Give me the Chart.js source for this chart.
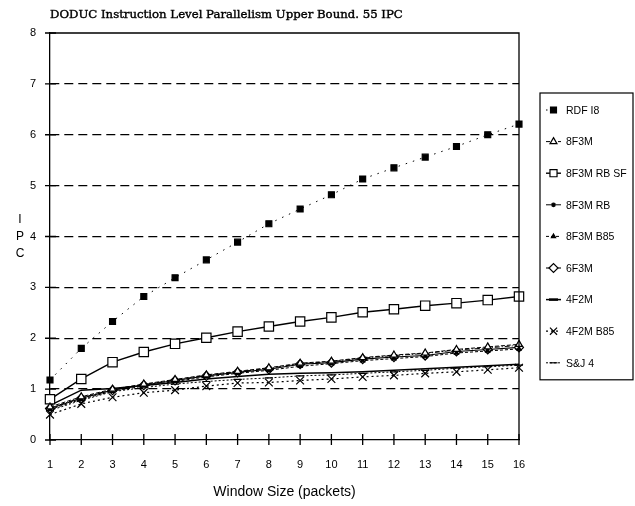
<!DOCTYPE html>
<html lang="en">
<head>
<meta charset="UTF-8">
<title>DODUC Instruction Level Parallelism</title>
<style>
  html, body { margin: 0; padding: 0; background: #fff; }
  #wrap { width: 635px; height: 506px; }
</style>
</head>
<body>
<div id="wrap"><canvas id="ipcChart" width="635" height="506"></canvas></div>
<script src="https://cdn.jsdelivr.net/npm/chart.js"></script>
<script>
// values (IPC per window size)
const windowSizes = ['1','2','3','4','5','6','7','8','9','10','11','12','13','14','15','16'];
const yTicks = [0, 1, 2, 3, 4, 5, 6, 7, 8];

const rdfI8     = [1.18, 1.80, 2.33, 2.82, 3.19, 3.54, 3.89, 4.25, 4.54, 4.82, 5.13, 5.35, 5.56, 5.77, 6.00, 6.21];
const f8m3      = [0.65, 0.85, 1.00, 1.10, 1.19, 1.28, 1.35, 1.42, 1.51, 1.55, 1.62, 1.67, 1.71, 1.78, 1.83, 1.88];
const f8m3RbSf  = [0.80, 1.20, 1.53, 1.73, 1.89, 2.01, 2.13, 2.23, 2.33, 2.41, 2.51, 2.57, 2.64, 2.69, 2.75, 2.82];
const f8m3Rb    = [0.63, 0.83, 0.99, 1.09, 1.18, 1.27, 1.34, 1.41, 1.50, 1.54, 1.61, 1.66, 1.70, 1.77, 1.81, 1.86];
const f8m3B85   = [0.60, 0.80, 0.96, 1.06, 1.15, 1.24, 1.31, 1.37, 1.45, 1.50, 1.56, 1.60, 1.64, 1.71, 1.75, 1.79];
const f6m3      = [0.62, 0.82, 0.98, 1.08, 1.17, 1.26, 1.33, 1.39, 1.49, 1.52, 1.59, 1.63, 1.66, 1.74, 1.78, 1.82];
const f4m2      = [0.68, 0.98, 1.01, 1.07, 1.13, 1.20, 1.25, 1.29, 1.31, 1.32, 1.34, 1.37, 1.40, 1.43, 1.46, 1.49];
const f4m2B85   = [0.50, 0.71, 0.84, 0.93, 0.98, 1.06, 1.12, 1.13, 1.17, 1.20, 1.24, 1.27, 1.31, 1.34, 1.38, 1.42];
const sj4       = [0.58, 0.78, 0.95, 1.03, 1.10, 1.15, 1.19, 1.22, 1.26, 1.28, 1.31, 1.34, 1.37, 1.41, 1.44, 1.47];

const seriesNames = ['RDF I8', '8F3M', '8F3M RB SF', '8F3M RB', '8F3M B85', '6F3M', '4F2M', '4F2M B85', 'S&J 4'];
const chartTitle = 'DODUC Instruction Level Parallelism Upper Bound. 55 IPC';

function series(label, data, style, radius, fill, dash, width) {
    return {
        label: label,
        data: data,
        borderColor: '#000',
        borderWidth: width,
        borderDash: dash,
        pointStyle: style,
        pointRadius: radius,
        pointBackgroundColor: fill ? '#000' : '#fff',
        pointBorderColor: '#000',
        pointBorderWidth: 1.2,
        tension: 0,
        fill: false
    };
}

const datasets = [
    series(seriesNames[0], rdfI8, 'rect', 4.2, true, [1.5, 6], 1),
    series(seriesNames[1], f8m3, 'triangle', 4, false, [4, 2], 1),
    series(seriesNames[2], f8m3RbSf, 'rect', 6.6, false, [], 1.4),
    series(seriesNames[3], f8m3Rb, 'circle', 1.8, true, [5, 2, 1, 2], 1),
    series(seriesNames[4], f8m3B85, 'triangle', 2.4, true, [3, 2], 1),
    series(seriesNames[5], f6m3, 'rectRot', 4.5, false, [], 1.1),
    series(seriesNames[6], f4m2, 'line', 0, true, [], 1.5),
    series(seriesNames[7], f4m2B85, 'crossRot', 5.5, false, [2, 3], 1.2),
    series(seriesNames[8], sj4, 'line', 4, true, [2, 2], 1)
];

// axis decorations, title, IPC label and boxed legend
const decorations = {
    id: 'decorations',
    afterDraw(chart) {
        const ctx = chart.ctx;
        const area = chart.chartArea;
        const xs = chart.scales.x;
        const ys = chart.scales.y;
        ctx.save();
        ctx.strokeStyle = '#000';
        ctx.lineWidth = 1.3;
        ctx.setLineDash([]);
        ctx.beginPath();
        ctx.moveTo(area.left, area.top);
        ctx.lineTo(area.right, area.top);
        ctx.lineTo(area.right, area.bottom);
        ctx.stroke();

        // ticks crossing the axes
        ctx.beginPath();
        yTicks.forEach(v => {
            const y = ys.getPixelForValue(v);
            ctx.moveTo(area.left - 5, y);
            ctx.lineTo(area.left + 6, y);
        });
        windowSizes.forEach((s, i) => {
            const x = xs.getPixelForValue(i);
            ctx.moveTo(x, area.bottom - 6);
            ctx.lineTo(x, area.bottom + 5);
        });
        ctx.stroke();

        // title, sized to span the same width as the original, slightly heavier
        ctx.fillStyle = '#000';
        ctx.font = '12px "DejaVu Serif", serif';
        const fitSize = 12 * 353 / ctx.measureText(chartTitle).width;
        ctx.font = fitSize.toFixed(2) + 'px "DejaVu Serif", serif';
        ctx.textAlign = 'left';
        ctx.textBaseline = 'middle';
        ctx.lineWidth = 0.4;
        ctx.fillText(chartTitle, 50, 15);
        ctx.strokeText(chartTitle, 50, 15);

        // stacked IPC label
        ctx.font = '12px "Liberation Sans", Arial, sans-serif';
        ctx.textAlign = 'center';
        ['I', 'P', 'C'].forEach((c, i) => ctx.fillText(c, 20, 220 + i * 17));

        // legend
        const lx = 540, lTop = 93, lRight = 633, step = 31.6, first = 110;
        ctx.lineWidth = 1.2;
        ctx.strokeRect(lx, lTop, lRight - lx, first + step * 8 + 17 - lTop);
        ctx.font = '10.5px "Liberation Sans", Arial, sans-serif';
        ctx.textAlign = 'left';
        chart.data.datasets.forEach((ds, i) => {
            const y = first + i * step;
            ctx.strokeStyle = '#000';
            ctx.lineWidth = ds.borderWidth;
            ctx.setLineDash(ds.borderDash);
            ctx.beginPath();
            ctx.moveTo(546, y);
            ctx.lineTo(561, y);
            ctx.stroke();
            ctx.setLineDash([]);
            if (ds.pointRadius > 0) {
                ctx.fillStyle = ds.pointBackgroundColor;
                ctx.strokeStyle = '#000';
                ctx.lineWidth = 1.2;
                Chart.helpers.drawPoint(ctx, {
                    pointStyle: ds.pointStyle,
                    radius: Math.min(ds.pointRadius, 5),
                    rotation: 0,
                    borderWidth: 1.2
                }, 553.5, y);
            } else {
                ctx.lineWidth = 2.5;
                ctx.beginPath();
                ctx.moveTo(549, y);
                ctx.lineTo(558, y);
                ctx.stroke();
            }
            ctx.fillStyle = '#000';
            ctx.fillText(ds.label, 566, y + 1);
        });
        ctx.restore();
    }
};

new Chart(document.getElementById('ipcChart'), {
    type: 'line',
    data: { labels: windowSizes, datasets: datasets },
    options: {
        responsive: false,
        animation: false,
        devicePixelRatio: 1,
        layout: { padding: { top: 33, right: 116, bottom: 0, left: 0 } },
        plugins: {
            legend: { display: false },
            tooltip: { enabled: false }
        },
        scales: {
            x: {
                grid: { display: false, drawTicks: false },
                border: { display: true, color: '#000', width: 1.3 },
                ticks: {
                    color: '#000',
                    padding: 18,
                    maxRotation: 0,
                    autoSkip: false,
                    font: { family: '"Liberation Sans", Arial, sans-serif', size: 11 }
                },
                title: {
                    display: true,
                    text: 'Window Size (packets)',
                    color: '#000',
                    padding: { top: 0, bottom: 5 },
                    font: { family: '"Liberation Sans", Arial, sans-serif', size: 14 }
                },
                afterFit(scale) { scale.height = 66; }
            },
            y: {
                min: 0,
                max: 8,
                ticks: {
                    stepSize: 1,
                    color: '#000',
                    padding: 14,
                    font: { family: '"Liberation Sans", Arial, sans-serif', size: 11 }
                },
                grid: {
                    drawTicks: false,
                    lineWidth: 1.3,
                    color: ctx => (ctx.tick && (ctx.tick.value === 0 || ctx.tick.value === 8)) ? 'rgba(0,0,0,0)' : '#000'
                },
                border: { display: true, color: '#000', width: 1.3, dash: [9, 5] },
                afterFit(scale) { scale.width = 50; }
            }
        }
    },
    plugins: [decorations]
});
</script>
</body>
</html>
